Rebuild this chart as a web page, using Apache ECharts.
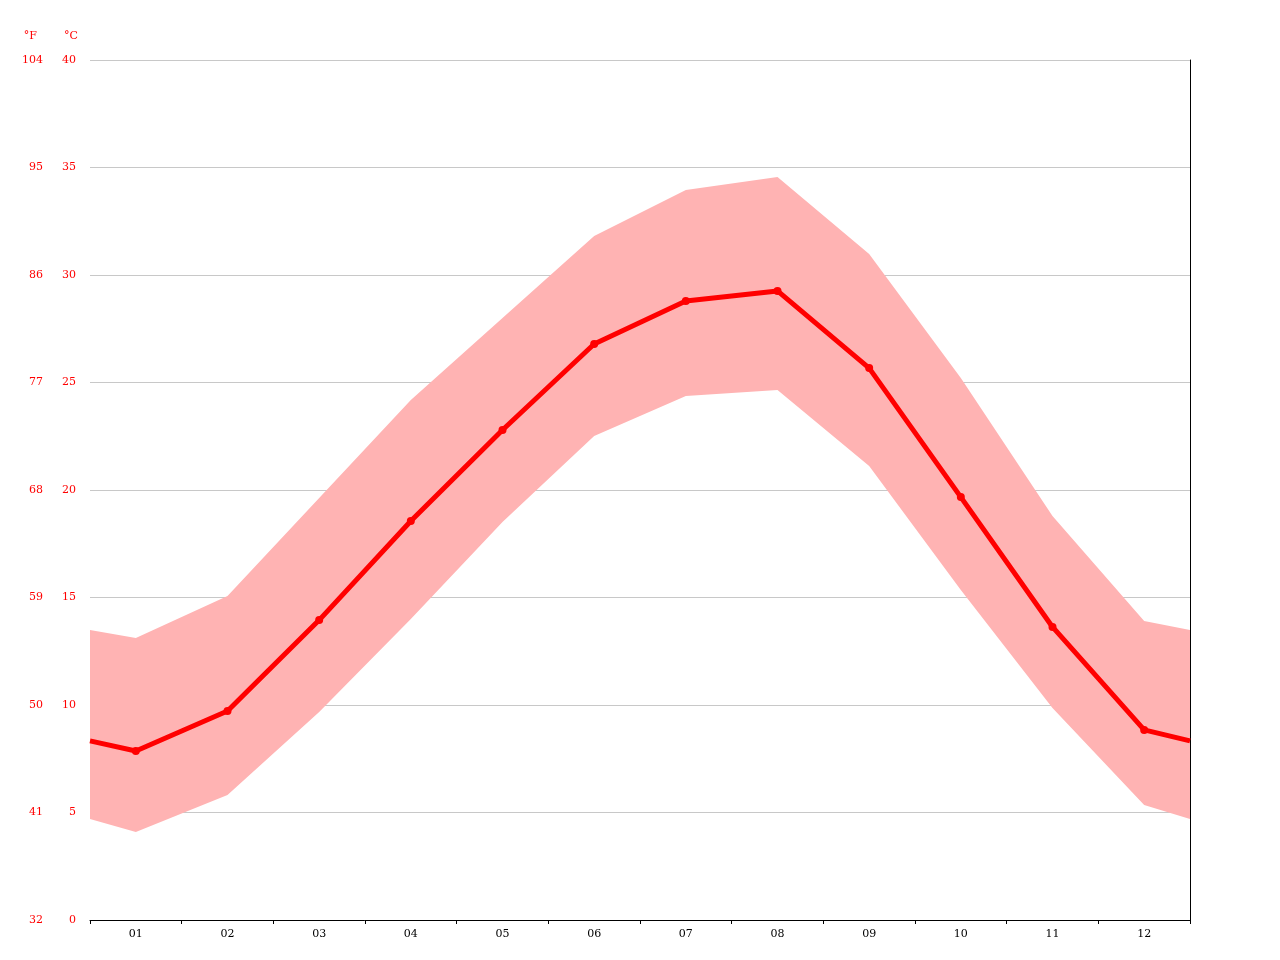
<!DOCTYPE html>
<html><head><meta charset="utf-8">
<script src="https://cdn.jsdelivr.net/npm/echarts@6/dist/echarts.min.js"></script>
<style>html,body{margin:0;padding:0;background:#fff}#c{width:1280px;height:960px}</style>
</head><body><div id="c"></div>
<script>
const months = ['01','02','03','04','05','06','07','08','09','10','11','12'];
// values at x = edge(0), months 1..12, edge(13)
const meanTemp = [8.33, 7.86, 9.72, 13.95, 18.56, 22.79, 26.79, 28.79, 29.26, 25.67, 19.67, 13.63, 8.84, 8.33];
const maxTemp  = [13.49, 13.12, 15.07, 19.63, 24.19, 28.0, 31.81, 33.95, 34.56, 30.98, 25.21, 18.79, 13.91, 13.49];
const minTemp  = [4.70, 4.09, 5.81, 9.67, 14.0, 18.51, 22.51, 24.37, 24.65, 21.12, 15.35, 9.86, 5.35, 4.70];

const xs = meanTemp.map((_, i) => i === 0 ? 0 : (i === meanTemp.length - 1 ? 12 : i - 0.5));
const pts = arr => arr.map((v, i) => [xs[i], v]);
const bandData = maxTemp.map((v, i) => [xs[i], minTemp[i], v]);
const meanPts = pts(meanTemp).map((p, i) => ({value: p, symbolSize: (i === 0 || i === meanTemp.length - 1) ? 0 : 8}));

const lbl = {color: '#ff0000', fontFamily: 'DejaVu Serif', fontSize: 11};
const chart = echarts.init(document.getElementById('c'));
chart.setOption({
  animation: false,
  grid: {left: 90, right: 90, top: 60, bottom: 40},
  xAxis: [
    {type: 'value', min: 0, max: 12, interval: 1, axisLabel: {show: false}, splitLine: {show: false},
     axisLine: {lineStyle: {color: '#000'}}, axisTick: {show: true, length: 4, lineStyle: {color: '#000'}}},
    {type: 'category', data: months, position: 'bottom', boundaryGap: true,
     axisLine: {show: false}, axisTick: {show: false},
     axisLabel: {color: '#000', fontFamily: 'DejaVu Serif', fontSize: 11, margin: 9}}
  ],
  yAxis: [
    {type: 'value', min: 0, max: 40, interval: 5, position: 'left', name: '°C',
     nameLocation: 'end', nameGap: 18, nameTextStyle: {...lbl, align: 'right', padding: [0, 12, 0, 0]},
     axisLine: {show: false}, axisTick: {show: false},
     axisLabel: {...lbl, margin: 14, align: 'right'},
     splitLine: {lineStyle: {color: '#c8c8c8'}}},
    {type: 'value', min: 0, max: 40, interval: 5, position: 'left', offset: 45, name: '°F',
     nameLocation: 'end', nameGap: 18, nameTextStyle: {...lbl, align: 'right', padding: [0, 8, 0, 0]},
     axisLine: {show: false}, axisTick: {show: false},
     axisLabel: {...lbl, margin: 2, align: 'right', formatter: v => Math.round(v * 9 / 5 + 32)},
     splitLine: {show: false}},
    {type: 'value', min: 0, max: 40, interval: 5, position: 'right', axisLine: {show: true, lineStyle: {color: '#000'}},
     axisLabel: {show: false}, axisTick: {show: false}, splitLine: {show: false}}
  ],
  series: [
    {type: 'custom', data: bandData, z: 1,
     renderItem: (params, api) => {
       if (params.dataIndex !== 0) return;
       const top = bandData.map(d => api.coord([d[0], d[2]]));
       const bot = bandData.map(d => api.coord([d[0], d[1]])).reverse();
       return {type: 'polygon', shape: {points: top.concat(bot)}, style: {fill: '#ffb3b3'}, silent: true};
     }},
    {type: 'line', data: meanPts, symbol: 'circle', itemStyle: {color: '#ff0000'}, lineStyle: {color: '#ff0000', width: 5}, z: 5}
  ]
});
</script></body></html>
